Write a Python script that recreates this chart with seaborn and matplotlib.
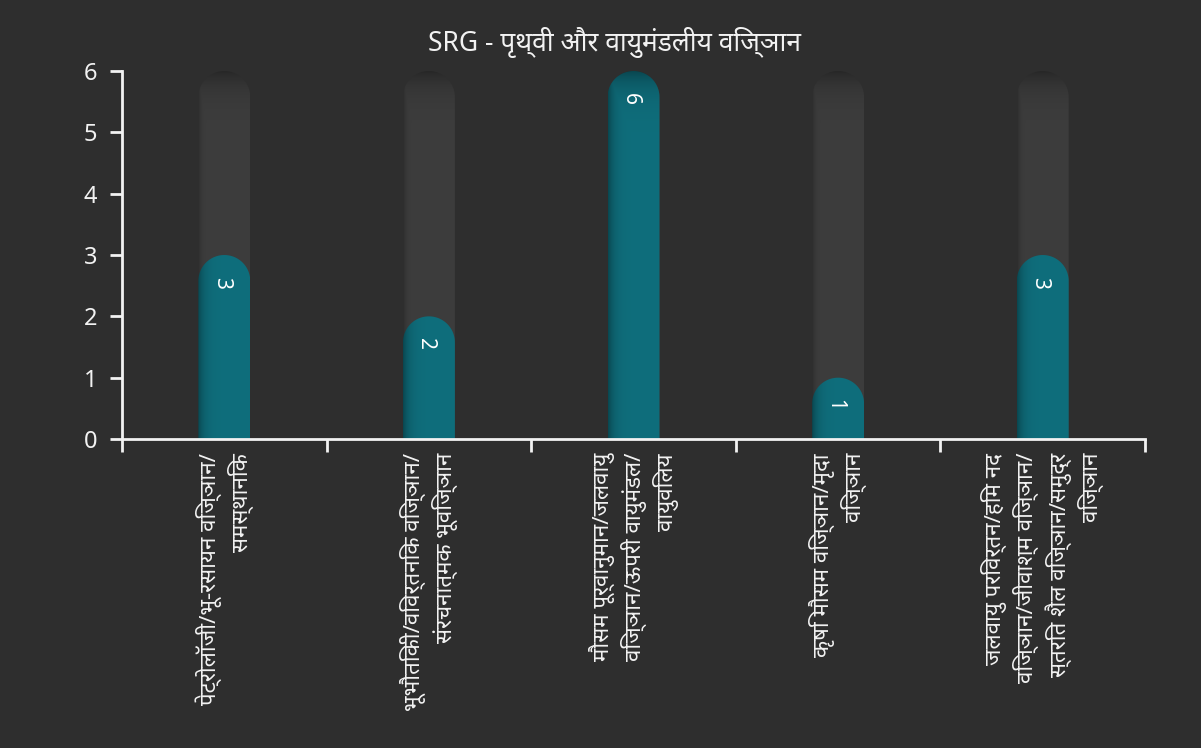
import matplotlib
matplotlib.use("Agg")
import numpy as np
import pandas as pd
import matplotlib.pyplot as plt
import seaborn as sns
from matplotlib.patches import Polygon
from matplotlib.colors import to_rgb

# Data
categories = [
    "पेट्रोलॉजी/भू-रसायन विज्ञान/\nसमस्थानिक",
    "भूभौतिकी/विवर्तनिक विज्ञान/\nसंरचनात्मक भूविज्ञान",
    "मौसम पूर्वानुमान/जलवायु\nविज्ञान/ऊपरी वायुमंडल/\nवायुविलय",
    "कृषि मौसम विज्ञान/मृदा\nविज्ञान",
    "जलवायु परिवर्तन/हिम नद\nविज्ञान/जीवाश्म विज्ञान/\nस्तरित शैल विज्ञान/समुद्र\nविज्ञान",
]
counts = [3, 2, 6, 1, 3]
y_ticks = [0, 1, 2, 3, 4, 5, 6]
title = "SRG - पृथ्वी और वायुमंडलीय विज्ञान"

BG = "#2e2e2e"
TRACK = "#3d3d3d"
TEAL = "#0f6e7c"
FG = "#f2f2f2"

sns.set_theme(style="dark")
plt.rcParams["font.family"] = ["Noto Sans", "DejaVu Sans"]

W, H = 1201, 748
fig = plt.figure(figsize=(W / 100, H / 100), dpi=100, facecolor=BG)
ax = fig.add_axes([122 / W, 1 - 439 / H, (1145 - 122) / W, (439 - 71) / H])
ax.set_facecolor(BG)

df = pd.DataFrame({"category": categories, "count": counts})
df["track"] = max(y_ticks)

bar_w = 0.254
sns.barplot(data=df, x="category", y="track", color=TRACK, width=bar_w,
            ax=ax, saturation=1)
n_track = len(ax.patches)
sns.barplot(data=df, x="category", y="count", color=TEAL, width=bar_w,
            ax=ax, saturation=1)

ax.set_xlim(-0.5, len(categories) - 0.5)
ax.set_ylim(0, max(y_ticks))
fig.canvas.draw()

px_per_y = ax.bbox.height / (max(y_ticks) - 0)
px_per_x = ax.bbox.width / len(categories)


def capsule(x0, w, h):
    """Outline of a column with a semicircular top, in data coordinates."""
    rx = w / 2
    ry = rx * px_per_x / px_per_y
    cx = x0 + rx
    t = np.linspace(0, np.pi, 60)
    top = np.column_stack([cx + rx * np.cos(t), (h - ry) + ry * np.sin(t)])
    pts = np.vstack([[x0 + w, 0], top, [x0, 0]])
    return pts


def shaded(base, h, w_px, ymax, left_w, left_a):
    rows, cols = 300, 60
    rgb = np.array(to_rgb(base))
    xs = np.linspace(0, w_px, cols)
    ys = np.linspace(0, h, rows)
    # inset shadow along the left edge and near the top of the column
    left = np.exp(-xs / left_w) * left_a
    topd = (ymax - ys) * px_per_y
    topsh = np.exp(-np.clip(topd, 0, None) / 16.0) * 0.35
    dark = 1 - np.maximum(left[None, :], topsh[:, None])
    img = rgb[None, None, :] * dark[:, :, None]
    return img


patches = list(ax.patches)
for i, p in enumerate(patches):
    x0, w, h = p.get_x(), p.get_width(), p.get_height()
    p.set_visible(False)
    if h <= 0:
        continue
    is_track = i < n_track
    base = TRACK if is_track else TEAL
    poly = Polygon(capsule(x0, w, h), closed=True, transform=ax.transData,
                   facecolor="none", edgecolor="none")
    ax.add_patch(poly)
    if is_track:
        img = shaded(base, h, w * px_per_x, max(y_ticks), 3.0, 0.25)
    else:
        img = shaded(base, h, w * px_per_x, max(y_ticks), 6.0, 0.35)
    im = ax.imshow(img, extent=[x0, x0 + w, 0, h], origin="lower",
                   aspect="auto", zorder=2, interpolation="bilinear")
    im.set_clip_path(poly)
    im.set_clip_on(True)

# value labels at the top of each teal column
for i, v in enumerate(counts):
    ax.text(i - 0.015, v - 0.45, str(v), rotation=-90, ha="center",
            va="center", color="white", fontsize=15, zorder=3)

ax.set_xlim(-0.5, len(categories) - 0.5)
ax.set_ylim(0, max(y_ticks))

# axes styling
for s in ["top", "right"]:
    ax.spines[s].set_visible(False)
for s in ["left", "bottom"]:
    ax.spines[s].set_color(FG)
    ax.spines[s].set_linewidth(2)
ax.set_yticks(y_ticks)
ax.set_yticklabels([str(t) for t in y_ticks])
ax.tick_params(axis="y", colors=FG, length=9, width=2, direction="out",
               labelsize=17, pad=9, left=True)
ax.set_xticks(range(len(categories)))
ax.set_xticklabels(categories, rotation=90, ha="center", va="top",
                   multialignment="right", linespacing=1.3)
ax.tick_params(axis="x", which="major", length=0, labelsize=16, colors=FG,
               pad=10)
ax.set_xticks(np.arange(-0.5, len(categories), 1.0), minor=True)
ax.tick_params(axis="x", which="minor", length=9, width=2, color=FG,
               bottom=True)
ax.set_xlabel("")
ax.set_ylabel("")
ax.grid(False)

fig.text(615 / W, 1 - 43 / H, title, ha="center", va="center", color=FG,
         fontsize=19)

fig.savefig("out.png", dpi=100, facecolor=BG)
